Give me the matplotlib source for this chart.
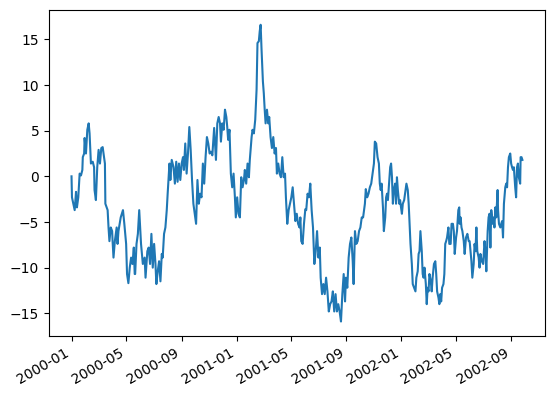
import numpy as np
import pandas as pd
import matplotlib
matplotlib.use("Agg")
import matplotlib.pyplot as plt

# day offsets from 2000-01-01 and the values
days = [
    0, 1, 7, 10, 12, 15, 18, 21, 24, 25, 28, 29, 32, 35, 38, 40, 43, 47, 50, 51,
    54, 57, 60, 63, 66, 69, 71, 74, 75, 78, 80, 82, 84, 87, 90, 91, 93, 96, 100, 102,
    104, 109, 114, 117, 121, 123, 126, 129, 132, 135, 138, 140,
    141, 144, 147, 150, 154, 158, 162, 164, 168, 171, 174, 177, 180, 183, 186, 188, 191, 194,
    197, 200, 202, 205, 208, 211, 213, 217, 219, 222, 226, 229, 232, 235, 238, 241, 244, 247,
    249, 252, 255, 258, 261, 264, 267, 270, 273, 276, 279, 282, 285, 288, 291, 294, 297, 300,
    303, 306, 309, 312, 316, 320, 323, 326, 329,
    331, 334, 337, 340, 343, 345, 347, 350, 353, 356, 359, 362, 364, 367, 370, 373, 376, 379,
    382, 384, 387, 390, 393, 395, 397, 399, 401, 404, 407, 410, 412, 415, 417, 419, 421, 424,
    426, 428, 430, 433, 436, 438, 441, 444, 447, 450, 453, 455, 458, 461, 464, 467, 470, 473,
    475, 478, 481, 484, 487, 490, 493, 496, 499, 502, 505,
    507, 509, 512, 515, 518, 520, 523, 526, 529, 532, 535, 538, 541, 544, 547, 550, 552, 555,
    558, 561, 564, 567, 570, 573, 576, 579, 582, 585, 588, 591, 594, 597, 600, 603, 606, 608,
    611, 614, 617, 620, 623, 625, 628, 631, 634, 637, 640, 643, 646, 650, 652, 655, 658, 661,
    664, 667, 670, 672, 675,
    678, 681, 683, 685, 687, 690, 692, 695, 697, 699, 701, 703, 706, 708, 710, 712, 714, 717,
    719, 721, 723, 726, 728, 730, 732, 734, 737, 740, 742, 745, 747, 749, 751, 754, 756, 759,
    762, 764, 767, 769, 771, 773, 776, 778, 780, 782, 785, 787, 789, 791, 793, 796, 798, 800,
    803, 806, 808, 810, 813, 815, 817, 819, 821, 824, 826, 828, 830, 832, 835, 837, 840, 842,
    845, 847, 849, 852, 854, 857, 859,
    860, 862, 864, 866, 869, 871, 874, 877, 880, 882, 884, 886, 888, 891, 893, 895, 897, 899,
    902, 904, 906, 909, 912, 915, 917, 919, 922, 924, 926, 928, 930, 933, 935, 937, 939, 941,
    944, 945, 947, 950, 952, 954, 956, 958, 961, 963, 965, 967, 969, 972, 974, 976, 978, 980,
    983, 985, 987, 989, 991, 994, 995, 997, 999,
]
values = [
    0.0, -2.3, -3.7, -1.7, -3.4, -2.3, 0.3, 0.1, 0.7, 2.1, 2.5, 4.2, 2.5, 5.1, 5.8, 4.7, 1.4, 1.6, 1.0, -1.5,
    -2.6, 1.0, 2.9, 1.4, 3.1, 3.2, 2.5, 1.4, -3.0, -3.4, -3.7, -5.6, -7.1, -5.6, -6.0, -7.1, -8.9, -7.1, -5.6, -7.4,
    -6.0, -4.5, -3.7, -5.2, -7.4, -10.7, -11.7, -10.0, -8.9, -9.6, -7.8, -10.7,
    -10.7, -7.4, -6.3, -3.7, -7.4, -9.6, -8.9, -11.1, -8.2, -7.8, -9.6, -6.3, -10.0, -7.4, -9.6, -11.8, -10.4, -9.3,
    -11.5, -8.5, -8.9, -6.3, -5.6, -3.7, -1.9, 1.4, -0.4, 1.8, 1.0, -0.8, 1.6, -0.6, 1.4, -0.4, 1.4, 2.1,
    0.7, 3.6, 0.3, 2.5, 5.4, 2.9, -0.4, -3.0, -4.1, -5.2, -0.4, -3.0, -1.9, -2.3, 1.4, -0.8, 2.1, 4.3,
    3.6, 2.5, 2.7, 2.3, 5.3, 1.8, 5.8, 6.5, 5.8,
    3.8, 5.8, 5.1, 7.3, 6.5, 5.4, 4.0, 5.1, 0.3, -1.2, 0.3, -2.3, -4.5, -2.3, -4.1, -4.5, -0.1, -1.2,
    -0.4, 0.7, -0.8, 1.4, -0.1, 1.8, 3.1, 4.3, 5.1, 4.7, 6.2, 9.5, 14.6, 14.8, 15.9, 16.6, 13.9, 10.4,
    9.1, 7.3, 5.8, 7.3, 5.8, 6.5, 4.3, 3.1, 4.3, 2.5, 3.1, 0.3, 1.4, 0.3, -0.1, 2.1, -0.1, 0.3,
    -2.3, -5.2, -3.7, -3.0, -2.3, -1.2, -3.0, -4.9, -4.1, -5.2, -5.6,
    -4.5, -7.1, -7.4, -5.2, -3.6, -3.7, -1.9, -2.3, -0.8, -3.7, -5.6, -9.6, -8.2, -6.0, -8.9, -7.8, -11.1, -12.9,
    -11.8, -12.9, -11.1, -12.6, -14.8, -14.0, -13.7, -12.6, -14.8, -12.9, -14.8, -14.0, -14.8, -15.9, -12.9, -10.7, -13.7, -11.1,
    -12.2, -8.9, -7.4, -6.7, -9.3, -11.8, -6.0, -7.4, -7.1, -6.0, -5.6, -4.5, -4.5, -3.0, -1.4, -2.3, -1.9, -1.2,
    -0.8, 0.3, 1.4, 3.8, 3.6,
    2.1, 1.4, -0.8, -1.5, -0.8, -3.4, -6.0, -4.5, -2.3, -1.9, -2.6, -1.2, 1.0, 1.4, -0.1, -3.0, -1.5, -0.8,
    -3.0, -0.1, -1.5, -3.0, -2.6, -3.4, -4.1, -3.0, -2.6, -1.5, -0.8, -1.5, -3.0, -5.2, -7.4, -9.6, -11.8, -12.2,
    -12.6, -11.1, -10.4, -8.5, -8.2, -6.0, -8.2, -10.7, -11.1, -10.0, -11.8, -14.0, -12.2, -12.6, -10.7, -11.5, -12.6, -11.1,
    -9.6, -9.3, -10.7, -12.6, -13.3, -14.0, -12.9, -13.7, -12.2, -11.8, -10.7, -7.4, -7.1, -6.7, -5.6, -7.4, -7.4, -5.2,
    -5.2, -6.0, -8.5, -6.7, -6.0, -3.7, -3.4,
    -5.2, -4.5, -5.6, -6.0, -7.1, -8.5, -6.7, -6.3, -7.1, -7.1, -8.2, -9.3, -11.1, -9.6, -7.4, -8.2, -5.6, -8.2,
    -8.9, -10.0, -8.5, -9.3, -9.6, -7.1, -8.2, -10.4, -6.0, -4.5, -4.1, -7.8, -3.7, -5.2, -4.5, -5.6, -3.4, -4.5,
    -1.5, -3.7, -5.2, -5.6, -5.2, -4.9, -6.7, -3.0, -1.2, -0.8, -1.2, 1.0, 2.1, 2.5, 1.4, 1.0, 0.7, 1.0,
    -1.2, -2.3, 1.0, 1.4, -0.1, -0.8, 2.1, 2.1, 1.8,
]

dates = pd.Timestamp("2000-01-01") + pd.to_timedelta(days, unit="D")

fig, ax = plt.subplots(figsize=(6.4, 4.8), dpi=100)
ax.plot(dates, values)
fig.autofmt_xdate()
fig.savefig("out.png", bbox_inches="tight")
